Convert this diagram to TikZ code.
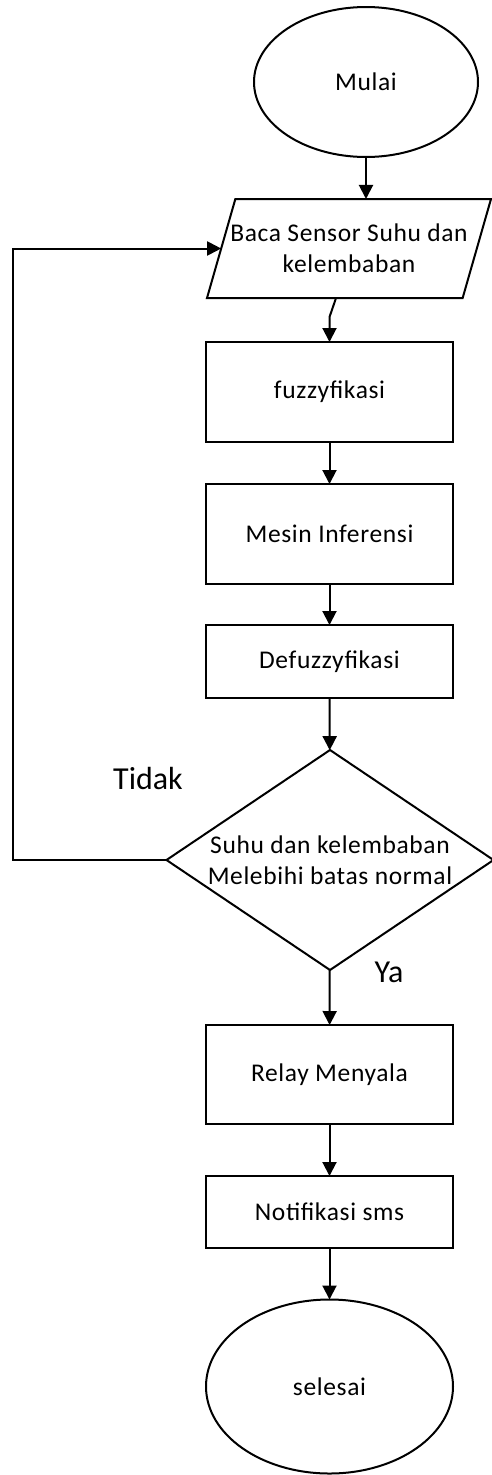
\documentclass[tikz,border=0pt]{standalone}
\usepackage{fontspec}
\setmainfont{Carlito}[LetterSpace=2.5]
\newfontfamily\labelfont{Carlito}
\usepackage{tikz}
\usetikzlibrary{shapes.geometric, arrows.meta}

\tikzset{
  garis/.style={line width=2pt, -{Triangle[width=14pt,length=14pt]}},
  terminal/.style={ellipse, draw, line width=2pt, inner sep=0pt, outer sep=0pt},
  proses/.style={rectangle, draw, line width=2pt, minimum width=247pt, inner sep=0pt, outer sep=0pt},
  masukan/.style={trapezium, trapezium left angle=74, trapezium right angle=106,
    trapezium stretches body, draw, line width=2pt, align=center,
    minimum width=284pt, minimum height=99pt, inner xsep=-6pt, inner ysep=25pt, outer sep=0pt},
  keputusan/.style={diamond, draw, line width=2pt, align=center, aspect=1.49,
    minimum width=327pt, minimum height=220pt, inner sep=0pt, outer sep=0pt},
  teks/.style={font=\fontsize{25.5}{31}\selectfont},
  label/.style={font=\labelfont\fontsize{32}{38}\selectfont}
}

\begin{document}
\begin{tikzpicture}[x=1pt, y=-1pt]
      \useasboundingbox (0,0) rectangle (492,1475);

      \node[terminal, teks, minimum width=224pt, minimum height=150pt] (mulai) at (366, 82) {Mulai};
      \node[masukan, teks] (baca) at (349, 248.5) {Baca Sensor Suhu dan\\kelembaban};
      \node[proses, teks, minimum height=100pt] (fuzzy) at (329.5, 392) {fuzzyfikasi};
      \node[proses, teks, minimum height=100pt] (mesin) at (329.5, 534) {Mesin Inferensi};
      \node[proses, teks, minimum height=73pt] (defuzzy) at (329.5, 661.5) {Defuzzyfikasi};
      \node[keputusan, teks] (cek) at (330, 860) {Suhu dan kelembaban\\Melebihi batas normal};
      \node[proses, teks, minimum height=99pt] (relay) at (329.5, 1074.5) {Relay Menyala};
      \node[proses, teks, minimum height=72pt] (sms) at (329.5, 1212) {Notifikasi sms};
      \node[terminal, teks, minimum width=247pt, minimum height=174pt] (selesai) at (329.5, 1386.5) {selesai};

      \node[label] (tidak) at (148, 778) {Tidak};
      \node[label] (ya) at (389, 972) {Ya};

      \coordinate (balik) at (13, 860);

      \draw[garis] (mulai.south) -- (mulai.south |- baca.north);
      \draw[garis] ([xshift=-13pt]baca.south) -- ([yshift=25pt]fuzzy.north) -- (fuzzy.north);
      \draw[garis] (fuzzy) -- (mesin);
      \draw[garis] (mesin) -- (defuzzy);
      \draw[garis] (defuzzy) -- (cek);
      \draw[garis] (cek) -- (relay);
      \draw[garis] (relay) -- (sms);
      \draw[garis] (sms) -- (selesai);

      % balik ke pembacaan sensor
      \draw[garis] (cek.west) -- (balik) |- (baca.west);
    \end{tikzpicture}
\end{document}
